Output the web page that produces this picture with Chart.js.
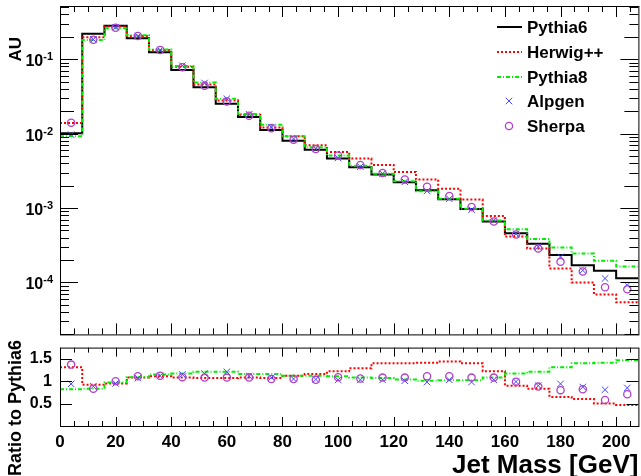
<!DOCTYPE html>
<html>
<head>
<meta charset="utf-8">
<script src="https://cdn.jsdelivr.net/npm/chart.js@4.4.1/dist/chart.umd.min.js"></script>
<style>
  html, body { margin: 0; padding: 0; background: #fff; width: 641px; height: 476px; overflow: hidden; }
  canvas { position: absolute; left: 0; }
  #top { top: 0; }
  #bot { top: 330px; }
</style>
</head>
<body>
<canvas id="top" width="644" height="340" style="width:644px;height:340px"></canvas>
<canvas id="bot" width="644" height="146" style="width:644px;height:146px"></canvas>
<script>
// bins of 8 GeV, low edges and centres
var binLow = [0, 8, 16, 24, 32, 40, 48, 56, 64, 72, 80, 88, 96, 104, 112, 120, 128, 136, 144, 152, 160, 168, 176, 184, 192, 200];
var binMid = [4, 12, 20, 28, 36, 44, 52, 60, 68, 76, 84, 92, 100, 108, 116, 124, 132, 140, 148, 156, 164, 172, 180, 188, 196, 204];
var xMax = 208;

// normalised distributions (AU)
var pythia6 = [0.0101, 0.220, 0.282, 0.191, 0.124, 0.0719, 0.0422, 0.0252, 0.0167, 0.0112, 0.00805, 0.00609, 0.00462,
  0.00353, 0.00282, 0.00222, 0.00174, 0.00131, 0.00097, 0.00066, 0.000457, 0.00033, 0.000234, 0.00017, 0.000143, 0.000114];
var herwig = [0.0139, 0.197, 0.276, 0.205, 0.133, 0.079, 0.0457, 0.028, 0.018, 0.0121, 0.0092, 0.00697, 0.00568,
  0.00462, 0.0038, 0.00306, 0.00242, 0.00181, 0.0013, 0.00078, 0.000413, 0.000285, 0.000154, 0.0001, 0.000069, 0.000054];
var pythia8 = [0.0092, 0.181, 0.262, 0.21, 0.135, 0.081, 0.0486, 0.0294, 0.0183, 0.0132, 0.0092, 0.00656, 0.0051,
  0.0037, 0.0029, 0.00229, 0.00168, 0.00133, 0.00098, 0.00068, 0.000518, 0.000384, 0.000294, 0.000245, 0.000195, 0.000164];
var alpgen = [0.0097, 0.185, 0.27, 0.205, 0.133, 0.082, 0.048, 0.0295, 0.0182, 0.0122, 0.0085, 0.0063, 0.0047,
  0.0036, 0.0029, 0.00225, 0.0017, 0.00133, 0.00095, 0.00068, 0.00045, 0.0003, 0.00022, 0.000145, 0.000113, 0.000092];
var sherpa = [0.014, 0.183, 0.265, 0.205, 0.133, 0.078, 0.044, 0.027, 0.0174, 0.0118, 0.0083, 0.0062, 0.0051,
  0.0038, 0.00296, 0.00242, 0.00193, 0.00145, 0.00103, 0.00066, 0.00044, 0.000285, 0.000189, 0.00014, 0.000086, 0.000081];

// ratios to Pythia6
var herwigRatio = [1.31, 0.92, 0.95, 1.08, 1.11, 1.08, 1.07, 1.07, 1.08, 1.07, 1.12, 1.16, 1.22,
  1.29, 1.40, 1.40, 1.41, 1.44, 1.40, 1.22, 0.90, 0.83, 0.65, 0.60, 0.50, 0.47];
var pythia8Ratio = [0.82, 0.83, 0.97, 1.09, 1.15, 1.17, 1.21, 1.21, 1.16, 1.16, 1.12, 1.12, 1.11,
  1.08, 1.07, 1.04, 1.01, 1.02, 1.02, 1.08, 1.17, 1.21, 1.31, 1.40, 1.41, 1.47];
var alpgenRatio = [0.94, 0.885, 0.95, 1.07, 1.12, 1.15, 1.17, 1.21, 1.11, 1.08, 1.05, 1.04, 1.03,
  1.03, 1.03, 1.01, 0.98, 1.03, 0.98, 1.03, 0.99, 0.90, 0.94, 0.87, 0.81, 0.85];
var sherpaRatio = [1.37, 0.83, 1.0, 1.11, 1.12, 1.09, 1.08, 1.08, 1.08, 1.05, 1.05, 1.03, 1.09,
  1.06, 1.08, 1.08, 1.11, 1.11, 1.08, 1.08, 0.99, 0.88, 0.80, 0.82, 0.58, 0.71];

var xLabels = [0, 20, 40, 60, 80, 100, 120, 140, 160, 180, 200];
var ratioLabels = [0.5, 1, 1.5];
var decades = [-4, -3, -2, -1];

var FONT = "'Liberation Sans', Arial, Helvetica, sans-serif";
Chart.defaults.font.family = FONT;
Chart.defaults.color = '#000';

function histo(vals) {
  var pts = binLow.map(function (e, i) { return { x: e, y: vals[i] }; });
  pts.push({ x: xMax, y: vals[vals.length - 1] });
  return pts;
}
function points(vals) {
  return binMid.map(function (c, i) { return { x: c, y: vals[i] }; });
}

var styles = {
  pythia6: { borderColor: '#000000', borderWidth: 2 },
  herwig: { borderColor: '#ff0000', borderWidth: 2, borderDash: [2, 2] },
  pythia8: { borderColor: '#00ee00', borderWidth: 2, borderDash: [4, 2, 1, 2] },
  alpgen: { borderColor: '#4646ff', pointStyle: 'crossRot', pointRadius: 4.6, borderWidth: 1 },
  sherpa: { borderColor: '#b040c8', backgroundColor: 'rgba(0,0,0,0)', pointStyle: 'circle', pointRadius: 3.6, borderWidth: 1.3 }
};

// 'before' = horizontal to the next edge, then vertical (histogram style)
function lineSet(label, vals, st, order) {
  return Object.assign({ label: label, data: histo(vals), stepped: 'before', pointRadius: 0, fill: false, order: order }, st);
}
function markSet(label, vals, st, order) {
  return Object.assign({ label: label, data: points(vals), showLine: false, order: order }, st);
}

// ROOT-like frame with inward ticks
function xTicks(ctx, x, a, major, minor) {
  for (var v = 0; v <= xMax; v += 5) {
    var px = Math.round(x.getPixelForValue(v)) + 0.5;
    var len = (v % 20 === 0) ? major : minor;
    ctx.moveTo(px, a.bottom); ctx.lineTo(px, a.bottom - len);
    ctx.moveTo(px, a.top); ctx.lineTo(px, a.top + len);
  }
}

var topFrame = {
  id: 'topFrame',
  afterDraw: function (chart) {
    var ctx = chart.ctx, a = chart.chartArea, x = chart.scales.x, y = chart.scales.y;
    ctx.save();
    ctx.strokeStyle = '#000'; ctx.lineWidth = 1;
    ctx.strokeRect(a.left + 0.5, a.top + 0.5, a.right - a.left, a.bottom - a.top);
    ctx.beginPath();
    xTicks(ctx, x, a, 11, 6);
    for (var d = -5; d <= 0; d++) {
      for (var m = 1; m <= 9; m++) {
        var v = m * Math.pow(10, d);
        if (v < y.min || v > y.max) continue;
        var py = Math.round(y.getPixelForValue(v)) + 0.5;
        var len = m === 1 ? 18 : (m === 2 ? 14 : 9);
        ctx.moveTo(a.left, py); ctx.lineTo(a.left + len, py);
        ctx.moveTo(a.right, py); ctx.lineTo(a.right - len, py);
      }
    }
    ctx.stroke();

    // decade labels 10^n
    ctx.fillStyle = '#000';
    ctx.textBaseline = 'alphabetic';
    decades.forEach(function (n) {
      var py = y.getPixelForValue(Math.pow(10, n));
      var ex = '-' + Math.abs(n);
      ctx.font = 'bold 11px ' + FONT;
      var ew = ctx.measureText(ex).width;
      ctx.textAlign = 'right';
      ctx.fillText(ex, 53, py + 1);
      ctx.font = 'bold 16px ' + FONT;
      ctx.fillText('10', 53 - ew, py + 7);
    });

    // y title
    ctx.save();
    ctx.translate(16, 37);
    ctx.rotate(-Math.PI / 2);
    ctx.font = 'bold 17px ' + FONT;
    ctx.textAlign = 'right'; ctx.textBaseline = 'middle';
    ctx.fillText('AU', 0, 0);
    ctx.restore();

    // legend
    var rowY = [27, 52, 77, 101, 126];
    chart.data.datasets.forEach(function (ds, i) {
      var ly = rowY[i];
      ctx.save();
      ctx.strokeStyle = ds.borderColor; ctx.lineWidth = ds.borderWidth;
      if (ds.showLine === false) {
        ctx.fillStyle = 'rgba(0,0,0,0)';
        Chart.helpers.drawPoint(ctx, { pointStyle: ds.pointStyle, radius: ds.pointRadius, borderWidth: ds.borderWidth }, 509, ly);
      } else {
        ctx.setLineDash(ds.borderDash || []);
        ctx.beginPath(); ctx.moveTo(497, ly); ctx.lineTo(522, ly); ctx.stroke();
      }
      ctx.restore();
      ctx.font = 'bold 17px ' + FONT;
      ctx.textAlign = 'left'; ctx.textBaseline = 'middle';
      ctx.fillText(ds.label, 527, ly + 1);
    });
    ctx.restore();
  }
};

var botFrame = {
  id: 'botFrame',
  afterDraw: function (chart) {
    var ctx = chart.ctx, a = chart.chartArea, x = chart.scales.x, y = chart.scales.y;
    ctx.save();
    ctx.strokeStyle = '#000'; ctx.lineWidth = 1;
    ctx.strokeRect(a.left + 0.5, a.top + 0.5, a.right - a.left, a.bottom - a.top);
    ctx.beginPath();
    xTicks(ctx, x, a, 9, 5);
    ratioLabels.forEach(function (v) {
      var py = Math.round(y.getPixelForValue(v)) + 0.5;
      ctx.moveTo(a.left, py); ctx.lineTo(a.left + 12, py);
      ctx.moveTo(a.right, py); ctx.lineTo(a.right - 12, py);
    });
    ctx.stroke();

    ctx.fillStyle = '#000';
    ctx.font = 'bold 26px ' + FONT;
    ctx.textAlign = 'right'; ctx.textBaseline = 'alphabetic';
    ctx.fillText('Jet Mass [GeV]', a.right, 143);

    ctx.save();
    ctx.translate(16, 10);
    ctx.rotate(-Math.PI / 2);
    ctx.font = 'bold 18px ' + FONT;
    ctx.textAlign = 'right'; ctx.textBaseline = 'middle';
    ctx.fillText('Ratio to Pythia6', 0, 0);
    ctx.restore();
    ctx.restore();
  }
};

var noGrid = { display: false, drawTicks: false };

new Chart(document.getElementById('top'), {
  type: 'line',
  data: {
    datasets: [
      lineSet('Pythia6', pythia6, styles.pythia6, 4),
      lineSet('Herwig++', herwig, styles.herwig, 3),
      lineSet('Pythia8', pythia8, styles.pythia8, 2),
      markSet('Alpgen', alpgen, styles.alpgen, 1),
      markSet('Sherpa', sherpa, styles.sherpa, 0)
    ]
  },
  options: {
    responsive: false,
    animation: false,
    events: [],
    layout: { padding: { top: 6, right: 2, bottom: 5, left: 0 } },
    plugins: { legend: { display: false }, tooltip: { enabled: false } },
    scales: {
      x: { type: 'linear', min: 0, max: xMax, display: false },
      y: {
        type: 'logarithmic', min: 2e-5, max: 0.52,
        ticks: { display: false }, grid: noGrid, border: { display: false },
        afterFit: function (s) { s.width = 60; }
      }
    }
  },
  plugins: [topFrame]
});

new Chart(document.getElementById('bot'), {
  type: 'line',
  data: {
    datasets: [
      lineSet('Herwig++', herwigRatio, styles.herwig, 3),
      lineSet('Pythia8', pythia8Ratio, styles.pythia8, 2),
      markSet('Alpgen', alpgenRatio, styles.alpgen, 1),
      markSet('Sherpa', sherpaRatio, styles.sherpa, 0)
    ]
  },
  options: {
    responsive: false,
    animation: false,
    events: [],
    layout: { padding: { top: 5, right: 2, bottom: 0, left: 0 } },
    plugins: { legend: { display: false }, tooltip: { enabled: false } },
    scales: {
      x: {
        type: 'linear', min: 0, max: xMax,
        afterBuildTicks: function (s) { s.ticks = xLabels.map(function (v) { return { value: v }; }); },
        ticks: { autoSkip: false, maxRotation: 0, padding: 6, color: '#000', font: { size: 17, weight: 'bold' } },
        grid: noGrid, border: { display: false },
        afterFit: function (s) { s.height = 50; }
      },
      y: {
        min: 0, max: 1.75,
        afterBuildTicks: function (s) { s.ticks = ratioLabels.map(function (v) { return { value: v }; }); },
        ticks: { padding: 8, color: '#000', font: { size: 16, weight: 'bold' }, callback: function (v) { return String(v); } },
        grid: noGrid, border: { display: false },
        afterFit: function (s) { s.width = 60; }
      }
    }
  },
  plugins: [botFrame]
});
</script>
</body>
</html>
